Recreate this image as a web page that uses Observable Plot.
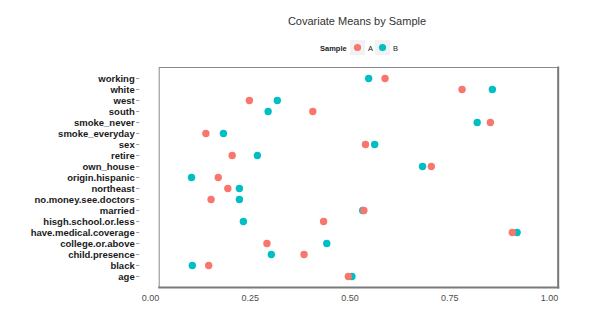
<!DOCTYPE html>
<html><head><meta charset="utf-8">
<script src="https://cdn.jsdelivr.net/npm/d3@7"></script>
<script src="https://cdn.jsdelivr.net/npm/@observablehq/plot@0.6"></script>
<style>
body{margin:0;background:#fff;font-family:"Liberation Sans",Arial,sans-serif;}
#wrap{width:591px;}
#title{height:38px;position:relative;}
#title span{position:absolute;left:357px;top:15px;transform:translateX(-50%);font-size:11px;color:#333;white-space:nowrap;}
#legend{height:22px;position:relative;}
</style></head>
<body><div id="wrap"><div id="title"><span>Covariate Means by Sample</span></div><div id="legend"></div><div id="chart"></div></div>
<script>
const covariates = ["working","white","west","south","smoke_never","smoke_everyday","sex","retire","own_house","origin.hispanic","northeast","no.money.see.doctors","married","hisgh.school.or.less","have.medical.coverage","college.or.above","child.presence","black","age"];
const sampleA = [0.566,0.759,0.226,0.385,0.830,0.117,0.517,0.183,0.682,0.148,0.172,0.130,0.513,0.412,0.885,0.270,0.363,0.124,0.474];
const sampleB = [0.525,0.835,0.296,0.273,0.797,0.161,0.540,0.246,0.660,0.081,0.201,0.201,0.510,0.211,0.897,0.420,0.281,0.083,0.483];
const samples = ["A","B"];
const colors = ["#F8766D","#00BFC4"];
const xTicks = [0,0.25,0.5,0.75,1];

const data = [];
covariates.forEach((c,i)=>{
  data.push({covariate:c, sample:"B", value:sampleB[i]});
  data.push({covariate:c, sample:"A", value:sampleA[i]});
});

// legend
const lg = d3.select("#legend").append("svg").attr("width",591).attr("height",22);
lg.append("text").attr("x",320).attr("y",13).attr("font-size",7.5).attr("font-weight","bold").attr("fill","#222").text("Sample");
samples.forEach((s,i)=>{
  const x0 = 350 + i*25;
  lg.append("rect").attr("x",x0).attr("y",2).attr("width",15).attr("height",15).attr("fill","#F2F2F2");
  lg.append("circle").attr("cx",x0+7.5).attr("cy",9.5).attr("r",3.6).attr("fill",colors[i]);
  lg.append("text").attr("x",x0+18).attr("y",12.5).attr("font-size",7.5).attr("fill","#222").text(s);
});

const chart = Plot.plot({
  width:591, height:261,
  marginLeft:158.7, marginRight:33.3, marginTop:7, marginBottom:34,
  style:{fontFamily:"'Liberation Sans',Arial,sans-serif", background:"#fff"},
  x:{domain:[0,1]},
  y:{type:"point", domain:covariates, padding:1},
  color:{domain:samples, range:colors},
  marks:[
    Plot.frame({stroke:"#8a8a8a", strokeWidth:1}),
    Plot.frame({anchor:"bottom", stroke:"#7a7a7a", strokeWidth:2}),
    Plot.frame({anchor:"right", stroke:"#7a7a7a", strokeWidth:2}),
    Plot.axisY({tickSize:3, tickPadding:2, dx:-19.5, fontSize:9.5, fontWeight:"bold", fill:"#1a1a1a", stroke:"#999", label:null}),
    Plot.axisX({ticks:xTicks, tickSize:0, tickPadding:7, fontSize:9, fill:"#4d4d4d", textAnchor:"end", tickFormat:d3.format(".2f"), label:null}),
    Plot.dot(data,{x:"value", y:"covariate", fill:"sample", r:3.7, stroke:null})
  ]
});
document.getElementById("chart").appendChild(chart);
</script></body></html>
